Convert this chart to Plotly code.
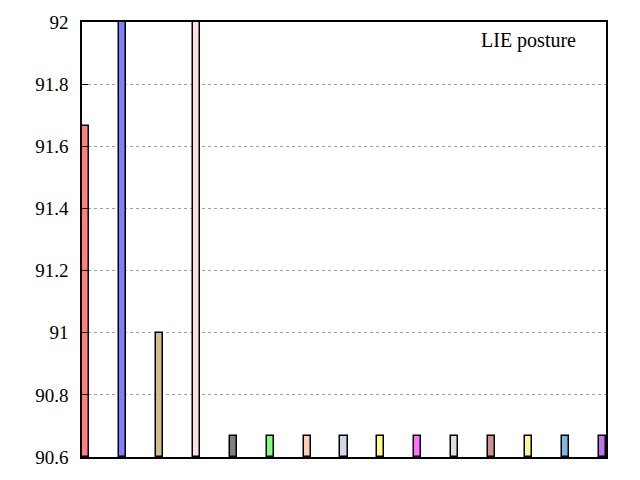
import plotly.graph_objects as go

# bar values (two bars run past the top of the axis)
values = [91.6667, 92.5, 91.0, 92.5, 90.6667, 90.6667, 90.6667, 90.6667,
          90.6667, 90.6667, 90.6667, 90.6667, 90.6667, 90.6667, 90.6667]
colors = ['#ff7f7f', '#7f7fff', '#d2be8c', '#ffe0e0', '#7f7f7f', '#7fff7f',
          '#ffd0b0', '#d0d8e4', '#ffff80', '#ff70ff', '#e0e0e0', '#d09090',
          '#fff5a0', '#80b8e0', '#c070f0']
positions = list(range(len(values)))
y_floor = 90.6
yticks = [90.6, 90.8, 91, 91.2, 91.4, 91.6, 91.8, 92]
ytick_text = ['90.6', '90.8', '91', '91.2', '91.4', '91.6', '91.8', '92']

serif = 'Liberation Serif, Times New Roman, serif'
bar_w = 0.19
fig = go.Figure()
fig.add_trace(go.Bar(
    x=positions,
    y=[v - y_floor for v in values],
    base=y_floor,
    width=bar_w,
    marker=dict(color=colors, line=dict(color='black', width=1.5)),
    showlegend=False,
))

# page has an 8px body margin, so margins are shifted accordingly
fig.update_layout(
    width=640, height=480,
    margin=dict(l=74, r=42, t=14, b=31),
    plot_bgcolor='white', paper_bgcolor='white',
    font=dict(family=serif, size=19, color='black'),
    bargap=0,
    xaxis=dict(range=[-bar_w / 2, positions[-1] + bar_w / 2], showticklabels=False,
               showgrid=False, zeroline=False, showline=True, linecolor='black',
               linewidth=1.5, mirror=True, ticks='', automargin=False),
    yaxis=dict(range=[90.6, 92], tickvals=yticks, ticktext=ytick_text,
               tickfont=dict(family=serif, size=19, color='black'),
               showgrid=True, gridcolor='#a0a0a0', griddash='dot', gridwidth=1,
               zeroline=False, showline=True, linecolor='black', linewidth=1.5,
               mirror=True, ticks='inside', ticklen=6, tickcolor='black',
               ticklabelstandoff=8, automargin=False),
    annotations=[dict(text='LIE posture', xref='paper', yref='paper',
                      x=0.9466, y=0.9586, xanchor='right', yanchor='middle',
                      showarrow=False, font=dict(family=serif, size=20))],
)

fig.write_html("out.html")
